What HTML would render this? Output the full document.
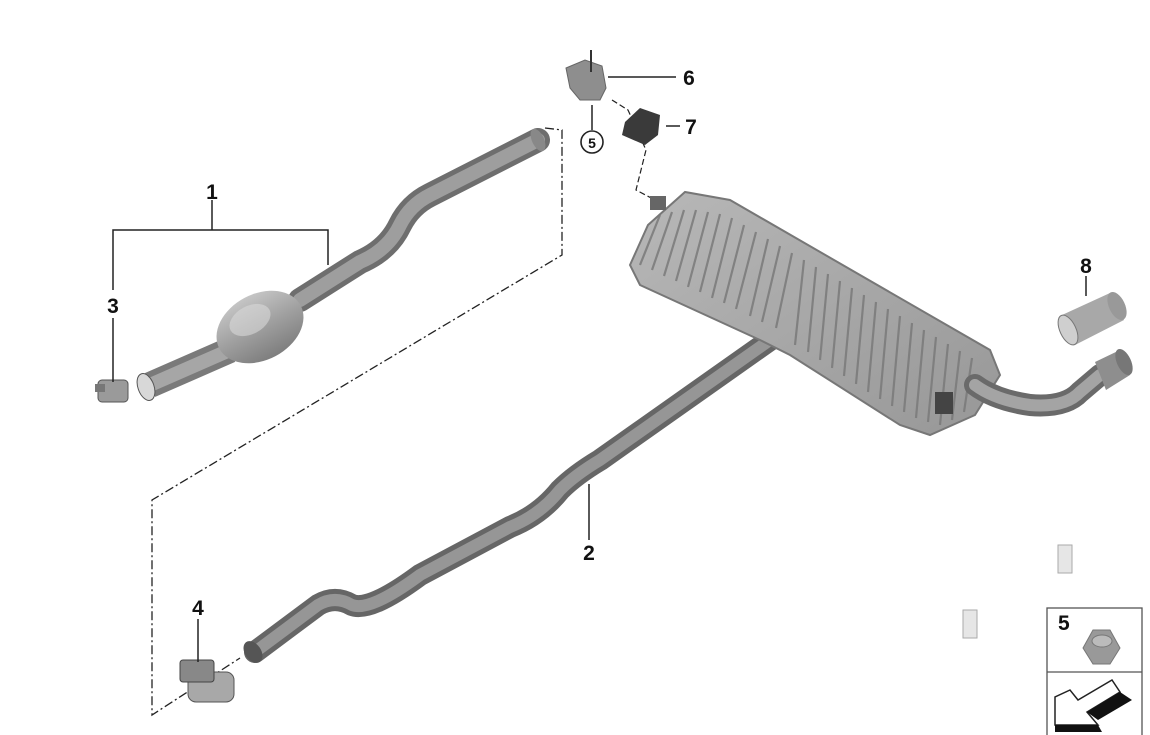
<!DOCTYPE html>
<html><head><meta charset="utf-8"><style>
html,body{margin:0;padding:0;background:#fff;}
svg{display:block;}
text{font-family:"Liberation Sans",sans-serif;font-weight:bold;font-size:21px;fill:#111;}
</style></head><body>
<svg width="1150" height="735" viewBox="0 0 1150 735" xmlns="http://www.w3.org/2000/svg">
<defs>
<linearGradient id="pg" x1="0" y1="0" x2="0" y2="1">
<stop offset="0" stop-color="#c5c5c5"/><stop offset="0.5" stop-color="#a0a0a0"/><stop offset="1" stop-color="#7e7e7e"/>
</linearGradient>
<linearGradient id="mg" x1="0" y1="0" x2="1" y2="1">
<stop offset="0" stop-color="#b8b8b8"/><stop offset="1" stop-color="#979797"/>
</linearGradient>
</defs>

<polyline points="545,128 562,130 562,255 152,500 152,715 240,658" fill="none" stroke="#222" stroke-width="1.3" stroke-dasharray="9,3,2,3"/>
<polyline points="612,100 628,110 646,150 636,190 655,200" fill="none" stroke="#222" stroke-width="1.2" stroke-dasharray="6,3"/>

<path d="M538,140 L430,195 Q410,205 400,225 Q388,250 360,262 L300,300" fill="none" stroke="#6e6e6e" stroke-width="24" stroke-linecap="round"/>
<path d="M538,140 L430,195 Q410,205 400,225 Q388,250 360,262 L300,300" fill="none" stroke="#9e9e9e" stroke-width="14" stroke-linecap="round"/>
<path d="M230,350 L150,385" fill="none" stroke="#7a7a7a" stroke-width="26"/>
<path d="M230,350 L150,385" fill="none" stroke="#a6a6a6" stroke-width="14"/>
<ellipse cx="538" cy="140" rx="6" ry="12" fill="#888" transform="rotate(-25 538 140)"/>
<ellipse cx="260" cy="327" rx="46" ry="33" fill="url(#pg)" transform="rotate(-28 260 327)"/>
<ellipse cx="250" cy="320" rx="22" ry="14" fill="#d8d8d8" opacity="0.6" transform="rotate(-28 250 320)"/>
<ellipse cx="146" cy="387" rx="8" ry="14" fill="#d8d8d8" stroke="#555" transform="rotate(-20 146 387)"/>
<rect x="98" y="380" width="30" height="22" rx="4" fill="#9a9a9a" stroke="#555"/>
<rect x="95" y="384" width="10" height="8" fill="#777"/>

<path d="M255,652 L318,605 Q335,595 352,605 Q370,612 420,575 L510,527 Q540,515 560,490 Q575,475 600,460 L770,340" fill="none" stroke="#666" stroke-width="22" stroke-linecap="round"/>
<path d="M255,652 L318,605 Q335,595 352,605 Q370,612 420,575 L510,527 Q540,515 560,490 Q575,475 600,460 L770,340" fill="none" stroke="#969696" stroke-width="12" stroke-linecap="round"/>
<ellipse cx="253" cy="652" rx="8" ry="12" fill="#555" transform="rotate(-35 253 652)"/>
<rect x="188" y="672" width="46" height="30" rx="8" fill="#a8a8a8" stroke="#555"/>
<rect x="180" y="660" width="34" height="22" rx="3" fill="#888" stroke="#444"/>

<path d="M630,265 L648,225 L685,192 L730,200 L990,350 L1000,375 L975,415 L930,435 L900,425 L790,355 L760,340 L640,285 Z" fill="url(#mg)" stroke="#777" stroke-width="2"/>
<g stroke="#7a7a7a" stroke-width="2.2" opacity="0.85">
<line x1="660" y1="215" x2="640" y2="265"/>
<line x1="672" y1="212" x2="652" y2="270"/>
<line x1="684" y1="210" x2="664" y2="276"/>
<line x1="696" y1="210" x2="676" y2="281"/>
<line x1="708" y1="212" x2="688" y2="287"/>
<line x1="720" y1="214" x2="700" y2="292"/>
<line x1="732" y1="218" x2="712" y2="298"/>
<line x1="744" y1="225" x2="724" y2="303"/>
<line x1="756" y1="232" x2="736" y2="309"/>
<line x1="768" y1="239" x2="750" y2="316"/>
<line x1="780" y1="246" x2="762" y2="322"/>
<line x1="792" y1="253" x2="776" y2="328"/>
<line x1="804" y1="260" x2="795" y2="345"/>
<line x1="816" y1="267" x2="808" y2="352"/>
<line x1="828" y1="274" x2="820" y2="360"/>
<line x1="840" y1="281" x2="832" y2="368"/>
<line x1="852" y1="288" x2="844" y2="376"/>
<line x1="864" y1="295" x2="856" y2="384"/>
<line x1="876" y1="302" x2="868" y2="392"/>
<line x1="888" y1="309" x2="880" y2="399"/>
<line x1="900" y1="316" x2="892" y2="406"/>
<line x1="912" y1="323" x2="904" y2="412"/>
<line x1="924" y1="330" x2="916" y2="418"/>
<line x1="936" y1="337" x2="928" y2="422"/>
<line x1="948" y1="344" x2="940" y2="425"/>
<line x1="960" y1="351" x2="952" y2="420"/>
<line x1="972" y1="358" x2="964" y2="412"/>
</g>
<rect x="935" y="392" width="18" height="22" fill="#444"/>
<rect x="650" y="196" width="16" height="14" fill="#666"/>
<path d="M975,385 Q995,400 1030,405 Q1065,408 1080,392 L1100,375" fill="none" stroke="#6a6a6a" stroke-width="22" stroke-linecap="round"/>
<path d="M975,385 Q995,400 1030,405 Q1065,408 1080,392 L1100,375" fill="none" stroke="#a4a4a4" stroke-width="12" stroke-linecap="round"/>
<path d="M1095,362 L1120,350 L1130,375 L1106,390 Z" fill="#8e8e8e"/>
<ellipse cx="1124" cy="362" rx="7" ry="14" fill="#777" transform="rotate(-25 1124 362)"/>
<path d="M1062,315 L1110,293 L1124,320 L1075,345 Z" fill="#a8a8a8"/>
<ellipse cx="1068" cy="330" rx="8" ry="16" fill="#cfcfcf" stroke="#777" transform="rotate(-25 1068 330)"/>
<ellipse cx="1117" cy="306" rx="8" ry="15" fill="#999" transform="rotate(-25 1117 306)"/>

<path d="M566,68 L585,60 L602,66 L606,88 L600,100 L580,100 L570,88 Z" fill="#8e8e8e" stroke="#666"/>
<line x1="591" y1="50" x2="591" y2="72" stroke="#333" stroke-width="2"/>
<path d="M625,122 L640,108 L660,115 L658,135 L645,145 L622,135 Z" fill="#3a3a3a"/>

<g stroke="#222" stroke-width="1.5" fill="none">
<polyline points="113,290 113,230 328,230 328,265"/>
<line x1="212" y1="200" x2="212" y2="230"/>
<line x1="113" y1="318" x2="113" y2="382"/>
<line x1="589" y1="484" x2="589" y2="540"/>
<line x1="198" y1="619" x2="198" y2="662"/>
<line x1="608" y1="77" x2="676" y2="77"/>
<line x1="666" y1="126" x2="680" y2="126"/>
<line x1="592" y1="105" x2="592" y2="130"/>
<line x1="1086" y1="276" x2="1086" y2="296"/>
</g>
<circle cx="592" cy="142" r="11" fill="#fff" stroke="#222" stroke-width="1.6"/>
<text x="592" y="148" text-anchor="middle" style="font-size:14px">5</text>
<text x="212" y="199" text-anchor="middle">1</text>
<text x="113" y="313" text-anchor="middle">3</text>
<text x="589" y="560" text-anchor="middle">2</text>
<text x="198" y="615" text-anchor="middle">4</text>
<text x="689" y="85" text-anchor="middle">6</text>
<text x="691" y="134" text-anchor="middle">7</text>
<text x="1086" y="273" text-anchor="middle">8</text>

<rect x="1058" y="545" width="14" height="28" fill="#e6e6e6" stroke="#aaa"/>
<rect x="963" y="610" width="14" height="28" fill="#e6e6e6" stroke="#aaa"/>

<rect x="1047" y="608" width="95" height="130" fill="#fff" stroke="#555" stroke-width="1.3"/>
<line x1="1047" y1="672" x2="1142" y2="672" stroke="#555" stroke-width="1.3"/>
<text x="1058" y="630">5</text>
<polygon points="1083,648 1093,630 1110,630 1120,648 1110,664 1093,664" fill="#999" stroke="#777"/>
<ellipse cx="1102" cy="641" rx="10" ry="6" fill="#bbb" stroke="#777"/>
<path d="M1055,697 L1055,725 L1098,725 L1087,712 L1120,692 L1112,680 L1078,700 L1070,690 Z" fill="#fff" stroke="#222" stroke-width="1.5"/>
<path d="M1055,725 L1098,725 L1102,732 L1055,732 Z" fill="#111"/>
<path d="M1120,692 L1132,700 L1098,720 L1087,712 Z" fill="#111"/>
</svg>
</body></html>
